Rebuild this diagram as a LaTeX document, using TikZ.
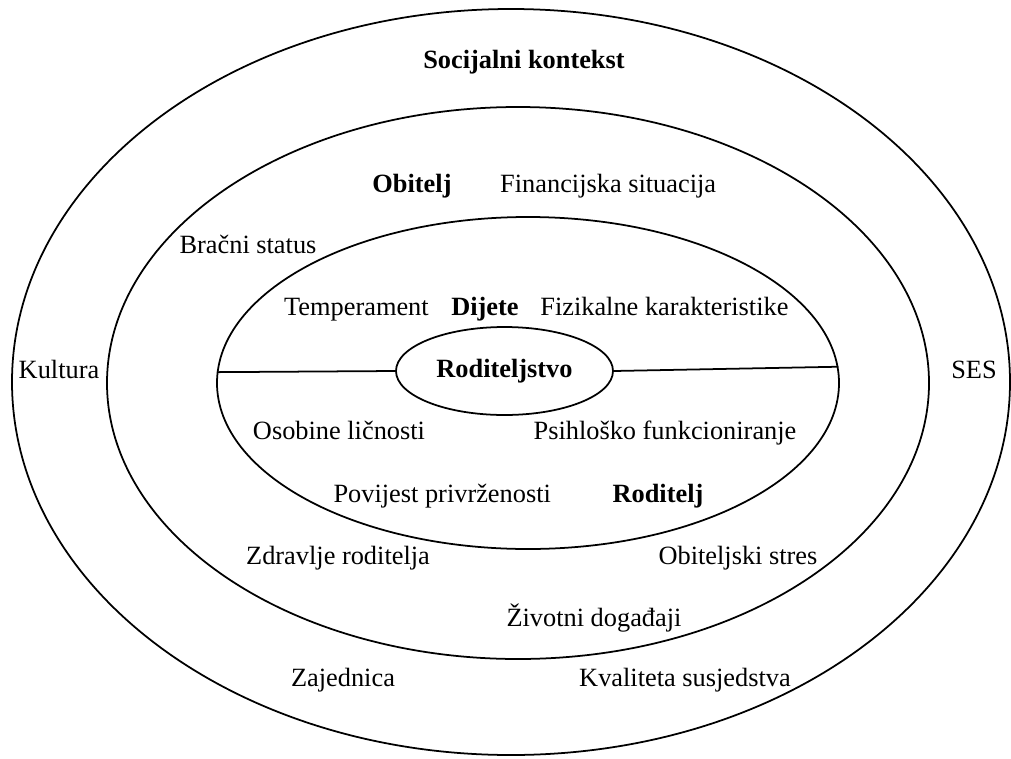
\documentclass[tikz,border=0pt]{standalone}
\usepackage{fontspec}
\setmainfont{Liberation Serif}
\usepackage{tikz}
\usetikzlibrary{shapes.geometric,positioning}
\tikzstyle{ring} = [ellipse, draw=black, line width=1pt, inner sep=0pt]
\tikzstyle{factor} = [inner sep=0pt, anchor=base, font=\fontsize{15}{18}\selectfont]
\tikzstyle{level} = [inner sep=0pt, anchor=base, font=\fontsize{15}{18}\selectfont\bfseries]
\tikzstyle{divider} = [line width=1pt]

\begin{document}
\begin{tikzpicture}[x=0.02cm, y=-0.02cm]
\useasboundingbox (0,0) rectangle (1011,758);
% rings
\node[ring, minimum width=998*0.02cm, minimum height=746*0.02cm] (kontekst) at (511,382) {};
\node[ring, minimum width=822*0.02cm, minimum height=552*0.02cm] (obiteljring) at (518,383) {};
\node[ring, minimum width=622*0.02cm, minimum height=332*0.02cm] (dijetering) at (528,383) {};
\node[ring, minimum width=217*0.02cm, minimum height=88*0.02cm, font=\fontsize{15}{18}\selectfont\bfseries] (roditeljstvo) at (504.5,371) {Roditeljstvo};
\draw[divider] (dijetering.178) -- (roditeljstvo.west);
\draw[divider] (roditeljstvo.east) -- (dijetering.3);
% social context
\node[level] (socijalni) at (524,68) {Socijalni kontekst};
\node[factor] (kultura) at (59,378) {Kultura};
\node[factor] (ses) at (974,378) {SES};
\node[factor] (zajednica) at (343,686) {Zajednica};
\node[factor] (kvaliteta) at (685,686) {Kvaliteta susjedstva};
% family
\node[level] (obitelj) at (412,192) {Obitelj};
\node[factor, base right=0.96cm of obitelj] (financije) {Financijska situacija};
\node[factor] (bracni) at (248,253) {Bračni status};
\node[factor] (zdravlje) at (338,564) {Zdravlje roditelja};
\node[factor] (stres) at (738,564) {Obiteljski stres};
\node[factor] (dogadaji) at (594,626) {Životni događaji};
% child and parent
\node[level] (dijete) at (485,315) {Dijete};
\node[factor, base left=0.44cm of dijete] (temperament) {Temperament};
\node[factor, base right=0.42cm of dijete] (fizikalne) {Fizikalne karakteristike};
\node[factor] (osobine) at (339,439) {Osobine ličnosti};
\node[factor] (psiholosko) at (665,439) {Psihloško funkcioniranje};
\node[level] (roditelj) at (658,502) {Roditelj};
\node[factor, base left=1.22cm of roditelj] (povijest) {Povijest privrženosti};
\end{tikzpicture}
\end{document}
